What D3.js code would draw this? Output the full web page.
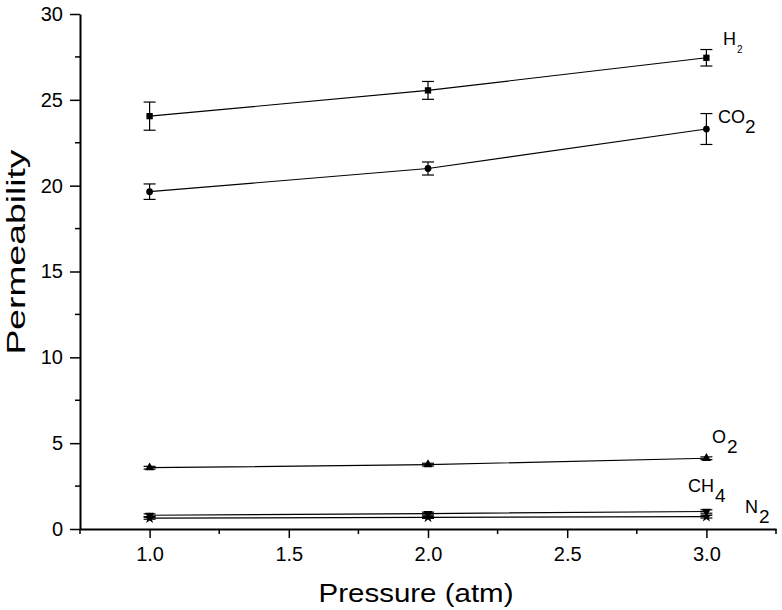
<!DOCTYPE html>
<html><head><meta charset="utf-8">
<script src="https://cdn.jsdelivr.net/npm/d3@7"></script>
<style>body{margin:0;background:#fff;} text{font-family:"Liberation Sans",Arial,sans-serif;}</style>
</head><body>
<svg id="c" width="782" height="610"></svg>
<script>
const pressures = [1.0, 2.0, 3.0];
const h2 = [24.05, 25.55, 27.45];
const h2Err = [0.82, 0.52, 0.48];
const co2 = [19.65, 21.0, 23.3];
const co2Err = [0.45, 0.38, 0.9];
const o2 = [3.57, 3.75, 4.12];
const o2Err = [0.08, 0.08, 0.08];
const ch4 = [0.8, 0.9, 1.02];
const ch4Err = [0.08, 0.08, 0.1];
const n2 = [0.63, 0.68, 0.72];
const n2Err = [0.06, 0.06, 0.08];
const xTicks = [1.0, 1.5, 2.0, 2.5, 3.0];
const yTicks = [0, 5, 10, 15, 20, 25, 30];

const series = [
  {name:"H", sub:"2", vals:h2, err:h2Err, sym:d3.symbolSquare, size:40, lx:723, ly:45, sx:737, sy:53, fs:18, ss:10},
  {name:"CO", sub:"2", vals:co2, err:co2Err, sym:d3.symbolCircle, size:36, lx:718, ly:123, sx:745, sy:133, fs:18, ss:19},
  {name:"O", sub:"2", vals:o2, err:o2Err, sym:d3.symbolTriangle, size:36, lx:712, ly:443, sx:727, sy:453, fs:18, ss:19},
  {name:"CH", sub:"4", vals:ch4, err:ch4Err, sym:d3.symbolTriangle, size:36, flip:true, lx:688, ly:492, sx:715, sy:502, fs:18, ss:19},
  {name:"N", sub:"2", vals:n2, err:n2Err, sym:d3.symbolStar, size:40, lx:745, ly:513, sx:759, sy:523, fs:18, ss:19}
];

const svg = d3.select("#c");
const m = {l:80, r:6, t:14, b:81};
const W = 782, H = 610;
const x = d3.scaleLinear().domain([0.75, 3.25]).range([m.l, W - m.r]);
const y = d3.scaleLinear().domain([0, 30]).range([H - m.b, m.t]);

const xMinor = d3.range(0.75, 3.26, 0.25).filter(v => !xTicks.some(t => Math.abs(t - v) < 1e-6));
const yMinor = d3.range(2.5, 30, 5);

const gx = svg.append("g").attr("transform", `translate(0,${y(0)})`);
gx.call(d3.axisBottom(x).tickValues(xTicks).tickFormat(d3.format(".1f")).tickSize(9).tickPadding(9).tickSizeOuter(0));
gx.selectAll("line.minor").data(xMinor).enter().append("line")
  .attr("x1", d => x(d)).attr("x2", d => x(d)).attr("y1", 0).attr("y2", 5).attr("stroke", "#000").attr("stroke-width", 1.5);
const gy = svg.append("g").attr("transform", `translate(${x(0.75)},0)`);
gy.call(d3.axisLeft(y).tickValues(yTicks).tickSize(10).tickPadding(7).tickSizeOuter(0));
gy.selectAll("line.minor").data(yMinor).enter().append("line")
  .attr("y1", d => y(d)).attr("y2", d => y(d)).attr("x1", 0).attr("x2", -5).attr("stroke", "#000").attr("stroke-width", 1.5);
[gx, gy].forEach(g => {
  g.attr("font-size", 20).attr("font-family", "Liberation Sans, Arial, sans-serif");
  g.select(".domain").attr("stroke-width", 2);
  g.selectAll(".tick line").attr("stroke-width", 1.5);
  g.selectAll(".tick text").attr("fill", "#000");
});

const line = d3.line().x((d, i) => x(pressures[i])).y(d => y(d));
series.forEach(s => {
  const g = svg.append("g");
  g.append("path").attr("d", line(s.vals)).attr("fill", "none").attr("stroke", "#000").attr("stroke-width", 1.2);
  s.vals.forEach((v, i) => {
    const cx = x(pressures[i]);
    const top = y(v + s.err[i]), bot = y(v - s.err[i]);
    g.append("line").attr("x1", cx).attr("x2", cx).attr("y1", top).attr("y2", bot).attr("stroke", "#000").attr("stroke-width", 1.2);
    [top, bot].forEach(yy => g.append("line").attr("x1", cx - 6).attr("x2", cx + 6).attr("y1", yy).attr("y2", yy).attr("stroke", "#000").attr("stroke-width", 1.2));
    g.append("path").attr("d", d3.symbol().type(s.sym).size(s.size)())
      .attr("transform", `translate(${cx},${y(v)})` + (s.flip ? " rotate(180)" : ""))
      .attr("fill", "#000");
  });
  svg.append("text").attr("x", s.lx).attr("y", s.ly).attr("font-size", s.fs).attr("fill", "#000").text(s.name);
  svg.append("text").attr("x", s.sx).attr("y", s.sy).attr("font-size", s.ss).attr("fill", "#000").text(s.sub);
});

svg.append("text").attr("x", 416).attr("y", 602).attr("text-anchor", "middle")
  .attr("font-size", 25).attr("textLength", 195).attr("lengthAdjust", "spacingAndGlyphs")
  .attr("fill", "#000").text("Pressure (atm)");
svg.append("text").attr("transform", `translate(25,${252}) rotate(-90)`).attr("text-anchor", "middle")
  .attr("font-size", 26).attr("textLength", 205).attr("lengthAdjust", "spacingAndGlyphs")
  .attr("fill", "#000").text("Permeability");
</script>
</body></html>
